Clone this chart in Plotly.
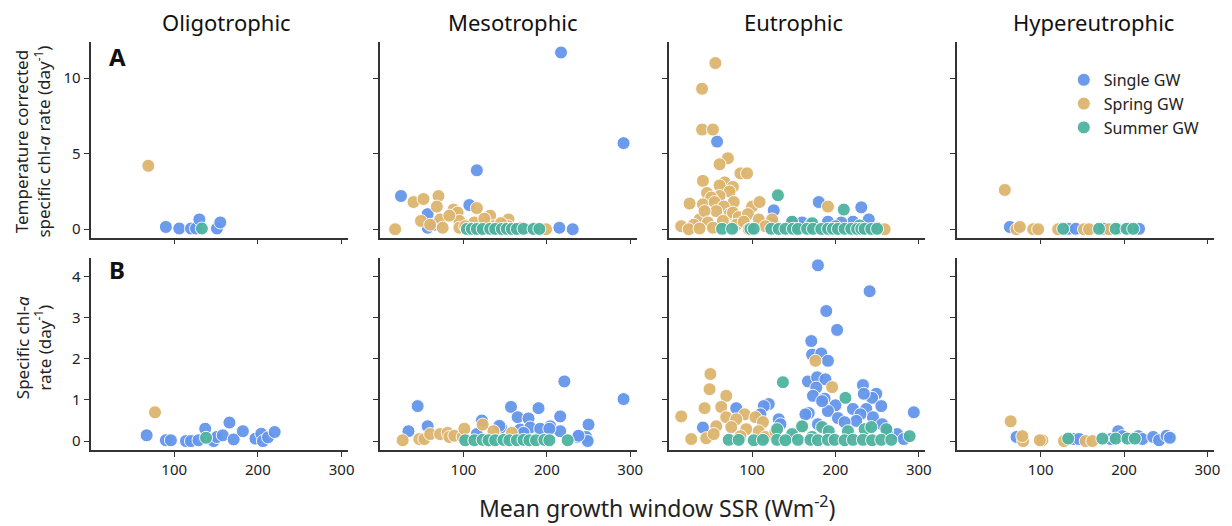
import plotly.graph_objects as go

# ---------------- DATA ----------------
# Oligotrophic, row A (temperature corrected rate)
OLI_A_SINGLE_X = [90, 106, 120, 126, 130, 151, 155]
OLI_A_SINGLE_Y = [0.15, 0.05, 0.05, 0.05, 0.65, 0.05, 0.45]
OLI_A_SPRING_X = [69]
OLI_A_SPRING_Y = [4.2]
OLI_A_SUMMER_X = [133]
OLI_A_SUMMER_Y = [0.05]

# Oligotrophic, row B (specific rate)
OLI_B_SINGLE_X = [67, 90, 96, 114, 120, 129, 137, 147, 151, 158, 166, 171, 182, 197, 204, 206, 212, 220]
OLI_B_SINGLE_Y = [0.14, 0.02, 0.02, 0.0, 0.0, 0.02, 0.3, 0.0, 0.1, 0.14, 0.45, 0.04, 0.24, 0.06, 0.18, 0.0, 0.09, 0.22]
OLI_B_SPRING_X = [77]
OLI_B_SPRING_Y = [0.7]
OLI_B_SUMMER_X = [138]
OLI_B_SUMMER_Y = [0.08]

# Mesotrophic, row A
MES_A_SINGLE_X = [217, 292, 116, 25, 215, 231, 107, 57, 57, 65, 100]
MES_A_SINGLE_Y = [11.7, 5.7, 3.9, 2.2, 0.1, 0.0, 1.6, 1.0, 0.1, 0.3, 0.3]
MES_A_SPRING_X = [18, 40, 52, 70, 68, 49, 72, 75, 88, 93, 95, 95, 116, 132, 154, 113, 136, 154, 199, 102, 60, 83, 125, 145, 170, 185]
MES_A_SPRING_Y = [0.0, 1.8, 2.0, 2.2, 1.5, 0.55, 0.65, 0.1, 1.3, 1.1, 0.55, 0.1, 1.4, 0.9, 0.65, 0.45, 0.2, 0.2, 0.0, 0.2, 0.3, 0.9, 0.7, 0.4, 0.1, 0.05]
MES_A_SUMMER_X = [104, 110, 116, 123, 132, 138, 146, 152, 158, 164, 172, 184, 191]
MES_A_SUMMER_Y = [0.02, 0.03, 0.02, 0.02, 0.03, 0.02, 0.02, 0.03, 0.02, 0.02, 0.03, 0.02, 0.02]

# Mesotrophic, row B
MES_B_SINGLE_X = [45, 221, 292, 34, 57, 122, 157, 165, 178, 190, 204, 216, 216, 250, 247, 237, 145, 168, 180, 192, 249, 143, 203, 116, 172, 238]
MES_B_SINGLE_Y = [0.85, 1.45, 1.02, 0.24, 0.36, 0.5, 0.83, 0.58, 0.55, 0.8, 0.36, 0.6, 0.24, 0.4, 0.1, 0.1, 0.33, 0.28, 0.33, 0.3, 0.0, 0.37, 0.3, 0.17, 0.2, 0.13]
MES_B_SPRING_X = [27, 47, 53, 60, 72, 81, 83, 89, 99, 101, 123, 136, 158]
MES_B_SPRING_Y = [0.02, 0.05, 0.05, 0.17, 0.17, 0.2, 0.1, 0.13, 0.1, 0.3, 0.4, 0.24, 0.2]
MES_B_SUMMER_X = [102, 113, 123, 130, 138, 148, 155, 164, 172, 179, 187, 197, 203, 225]
MES_B_SUMMER_Y = [0.02, 0.02, 0.03, 0.02, 0.02, 0.03, 0.02, 0.02, 0.03, 0.02, 0.02, 0.03, 0.02, 0.02]

# Eutrophic, row A
EUT_A_SINGLE_X = [58, 126, 180, 231, 240, 221, 191, 148, 125, 160, 207, 170, 200, 250]
EUT_A_SINGLE_Y = [5.8, 1.25, 1.8, 1.45, 0.65, 0.5, 0.5, 0.5, 0.45, 0.45, 0.45, 0.3, 0.2, 0.1]
EUT_A_SPRING_X = [56, 40, 40, 53, 71, 61, 86, 94, 41, 67, 61, 77, 46, 73, 61, 51, 25, 41, 55, 78, 100, 109, 66, 37, 57, 43, 73, 77, 84, 95, 15, 30, 47, 65, 81, 90, 108, 124, 116, 191, 259, 24, 53, 37, 96]
EUT_A_SPRING_Y = [11.0, 9.3, 6.6, 6.6, 4.7, 4.3, 3.7, 3.7, 3.2, 3.1, 2.9, 2.8, 2.4, 2.5, 2.2, 2.1, 1.7, 1.65, 1.8, 1.8, 1.5, 1.8, 1.5, 0.65, 1.2, 1.2, 1.0, 1.1, 0.8, 1.0, 0.2, 0.3, 0.45, 0.55, 0.3, 0.5, 0.65, 0.65, 0.2, 1.5, 0.0, 0.0, 0.1, 0.05, 0.0]
EUT_A_SUMMER_X = [131, 210, 148, 172, 229, 64, 76, 98, 102, 123, 132, 140, 149, 155, 166, 173, 183, 191, 197, 203, 211, 219, 226, 231, 235, 243, 250]
EUT_A_SUMMER_Y = [2.25, 1.3, 0.5, 0.4, 0.25, 0.03, 0.03, 0.02, 0.03, 0.03, 0.02, 0.03, 0.03, 0.02, 0.03, 0.03, 0.02, 0.03, 0.03, 0.02, 0.03, 0.03, 0.02, 0.03, 0.03, 0.02, 0.03]

# Eutrophic, row B
EUT_B_SINGLE_X = [179, 241, 189, 202, 171, 172, 183, 191, 167, 178, 188, 177, 233, 173, 187, 200, 249, 244, 255, 234, 221, 237, 245, 230, 191, 203, 168, 225, 256, 294, 120, 114, 81, 132, 134, 110, 164, 179, 211, 184, 274, 282, 262, 41]
EUT_B_SINGLE_Y = [4.27, 3.64, 3.16, 2.7, 2.43, 2.1, 2.13, 1.95, 1.45, 1.55, 1.5, 1.3, 1.36, 1.1, 1.03, 0.87, 1.15, 1.05, 0.85, 1.15, 0.78, 0.78, 0.58, 0.65, 0.73, 0.56, 0.68, 0.49, 0.41, 0.7, 0.9, 0.85, 0.8, 0.53, 0.41, 0.65, 0.65, 0.41, 0.46, 0.97, 0.17, 0.05, 0.24, 0.33]
EUT_B_SPRING_X = [50, 49, 69, 15, 43, 63, 91, 176, 196, 27, 45, 69, 81, 104, 113, 57, 75, 93, 108, 54, 86, 116, 160, 128]
EUT_B_SPRING_Y = [1.63, 1.26, 1.1, 0.6, 0.8, 0.83, 0.65, 1.95, 1.31, 0.05, 0.07, 0.58, 0.53, 0.58, 0.46, 0.36, 0.34, 0.29, 0.24, 0.17, 0.12, 0.1, 0.34, 0.22]
EUT_B_SUMMER_X = [137, 212, 130, 148, 160, 184, 192, 215, 235, 243, 261, 172, 72, 84, 102, 113, 130, 140, 155, 170, 179, 191, 199, 211, 221, 233, 244, 255, 267, 289]
EUT_B_SUMMER_Y = [1.43, 1.05, 0.29, 0.17, 0.36, 0.34, 0.24, 0.24, 0.29, 0.34, 0.29, 0.1, 0.03, 0.03, 0.02, 0.03, 0.03, 0.02, 0.03, 0.03, 0.02, 0.03, 0.03, 0.02, 0.03, 0.03, 0.02, 0.03, 0.03, 0.12]

# Hypereutrophic, row A
HYP_A_SINGLE_X = [63, 133, 142, 176, 192, 205, 218]
HYP_A_SINGLE_Y = [0.15, 0.03, 0.03, 0.03, 0.03, 0.03, 0.03]
HYP_A_SPRING_X = [57, 71, 75, 91, 97, 121, 152, 158, 182]
HYP_A_SPRING_Y = [2.6, 0.0, 0.15, 0.0, 0.0, 0.0, 0.0, 0.0, 0.0]
HYP_A_SUMMER_X = [127, 170, 190, 203, 211]
HYP_A_SUMMER_Y = [0.03, 0.03, 0.03, 0.03, 0.03]

# Hypereutrophic, row B
HYP_B_SINGLE_X = [71, 140, 146, 193, 198, 217, 222, 235, 242, 251, 255, 184]
HYP_B_SINGLE_Y = [0.1, 0.05, 0.05, 0.24, 0.12, 0.12, 0.05, 0.1, 0.02, 0.13, 0.08, 0.05]
HYP_B_SPRING_X = [64, 79, 78, 102, 99, 128, 154, 162]
HYP_B_SPRING_Y = [0.48, 0.0, 0.12, 0.02, 0.02, 0.0, 0.0, 0.0]
HYP_B_SUMMER_X = [133, 174, 190, 204, 213]
HYP_B_SUMMER_Y = [0.06, 0.06, 0.06, 0.06, 0.06]

COLUMN_TITLES = ["Oligotrophic", "Mesotrophic", "Eutrophic", "Hypereutrophic"]
GROUP_NAMES = ["Single GW", "Spring GW", "Summer GW"]
X_TICKS = [100, 200, 300]
Y_TICKS_A = [0, 5, 10]
Y_TICKS_B = [0, 1, 2, 3, 4]

# ---------------- LAYOUT / STYLE ----------------
W, H = 1232, 526
COLORS = ["#6596EC", "#DDB56E", "#4FB3A0"]
FONT = "Noto Sans"
AXIS_COLOR = "#333333"

panels = {
    (0, 0): [(OLI_A_SINGLE_X, OLI_A_SINGLE_Y), (OLI_A_SPRING_X, OLI_A_SPRING_Y), (OLI_A_SUMMER_X, OLI_A_SUMMER_Y)],
    (0, 1): [(MES_A_SINGLE_X, MES_A_SINGLE_Y), (MES_A_SPRING_X, MES_A_SPRING_Y), (MES_A_SUMMER_X, MES_A_SUMMER_Y)],
    (0, 2): [(EUT_A_SINGLE_X, EUT_A_SINGLE_Y), (EUT_A_SPRING_X, EUT_A_SPRING_Y), (EUT_A_SUMMER_X, EUT_A_SUMMER_Y)],
    (0, 3): [(HYP_A_SINGLE_X, HYP_A_SINGLE_Y), (HYP_A_SPRING_X, HYP_A_SPRING_Y), (HYP_A_SUMMER_X, HYP_A_SUMMER_Y)],
    (1, 0): [(OLI_B_SINGLE_X, OLI_B_SINGLE_Y), (OLI_B_SPRING_X, OLI_B_SPRING_Y), (OLI_B_SUMMER_X, OLI_B_SUMMER_Y)],
    (1, 1): [(MES_B_SINGLE_X, MES_B_SINGLE_Y), (MES_B_SPRING_X, MES_B_SPRING_Y), (MES_B_SUMMER_X, MES_B_SUMMER_Y)],
    (1, 2): [(EUT_B_SINGLE_X, EUT_B_SINGLE_Y), (EUT_B_SPRING_X, EUT_B_SPRING_Y), (EUT_B_SUMMER_X, EUT_B_SUMMER_Y)],
    (1, 3): [(HYP_B_SINGLE_X, HYP_B_SINGLE_Y), (HYP_B_SPRING_X, HYP_B_SPRING_Y), (HYP_B_SUMMER_X, HYP_B_SUMMER_Y)],
}

col_px = [(91, 350), (382, 640), (672, 930), (962, 1220)]
row_px = [(42, 238), (258, 451)]
y_ranges = [[-0.55, 12.4], [-0.22, 4.46]]
x_range = [0, 308]

fig = go.Figure()
layout_axes = {}

for (r, c), groups in panels.items():
    k = r * 4 + c + 1
    xa = "x" if k == 1 else f"x{k}"
    ya = "y" if k == 1 else f"y{k}"
    for g, (xs, ys) in enumerate(groups):
        fig.add_trace(go.Scatter(
            x=xs, y=ys, mode="markers", xaxis=xa, yaxis=ya,
            name=GROUP_NAMES[g],
            showlegend=(k == 1),
            marker=dict(size=13, color=COLORS[g], opacity=0.95,
                        line=dict(width=1, color="white")),
        ))
    x0, x1 = col_px[c]
    y0, y1 = row_px[r]
    common = dict(showline=True, linecolor=AXIS_COLOR, linewidth=1.7,
                  ticks="outside", ticklen=5, tickwidth=1.4, tickcolor=AXIS_COLOR,
                  showgrid=False, zeroline=False,
                  tickfont=dict(family=FONT, size=15, color="#222"))
    layout_axes[f"xaxis{k}"] = dict(
        domain=[x0 / W, x1 / W], anchor=ya,
        range=x_range, tickvals=X_TICKS, showticklabels=(r == 1), **common)
    layout_axes[f"yaxis{k}"] = dict(
        domain=[1 - y1 / H, 1 - y0 / H], anchor=xa,
        range=y_ranges[r], tickvals=(Y_TICKS_A if r == 0 else Y_TICKS_B),
        showticklabels=(c == 0), **common)

fig.update_layout(**layout_axes)

annotations = []
title_x = [228, 515, 797, 1099]
for c, t in enumerate(COLUMN_TITLES):
    annotations.append(dict(text=t, x=title_x[c] / W, y=1 - 22 / H, xref="paper", yref="paper",
                            xanchor="center", yanchor="middle", showarrow=False,
                            font=dict(family=FONT, size=22, color="#111")))
annotations.append(dict(text="Temperature corrected<br>specific chl-<i>a</i> rate (day<sup>-1</sup>)",
                        x=33 / W, y=1 - 142 / H, xref="paper", yref="paper", textangle=-90,
                        xanchor="center", yanchor="middle", showarrow=False,
                        font=dict(family=FONT, size=17, color="#222")))
annotations.append(dict(text="Specific chl-<i>a</i><br>rate (day<sup>-1</sup>)",
                        x=33 / W, y=1 - 348 / H, xref="paper", yref="paper", textangle=-90,
                        xanchor="center", yanchor="middle", showarrow=False,
                        font=dict(family=FONT, size=17, color="#222")))
annotations.append(dict(text="Mean growth window SSR (Wm<sup>-2</sup>)",
                        x=660 / W, y=1 - 508 / H, xref="paper", yref="paper",
                        xanchor="center", yanchor="middle", showarrow=False,
                        font=dict(family=FONT, size=23, color="#222")))
annotations.append(dict(text="<b>A</b>", x=118 / W, y=1 - 57 / H, xref="paper", yref="paper",
                        xanchor="center", yanchor="middle", showarrow=False,
                        font=dict(family=FONT, size=24, color="#111")))
annotations.append(dict(text="<b>B</b>", x=118 / W, y=1 - 270 / H, xref="paper", yref="paper",
                        xanchor="center", yanchor="middle", showarrow=False,
                        font=dict(family=FONT, size=24, color="#111")))

fig.update_layout(
    width=W, height=H,
    margin=dict(l=0, r=0, t=0, b=0),
    paper_bgcolor="white", plot_bgcolor="white",
    font=dict(family=FONT),
    annotations=annotations,
    legend=dict(x=1069 / W, y=1 - 63 / H, xanchor="left", yanchor="top",
                bgcolor="rgba(0,0,0,0)", font=dict(family=FONT, size=16, color="#222"),
                tracegroupgap=0),
)

fig.write_html("out.html")
